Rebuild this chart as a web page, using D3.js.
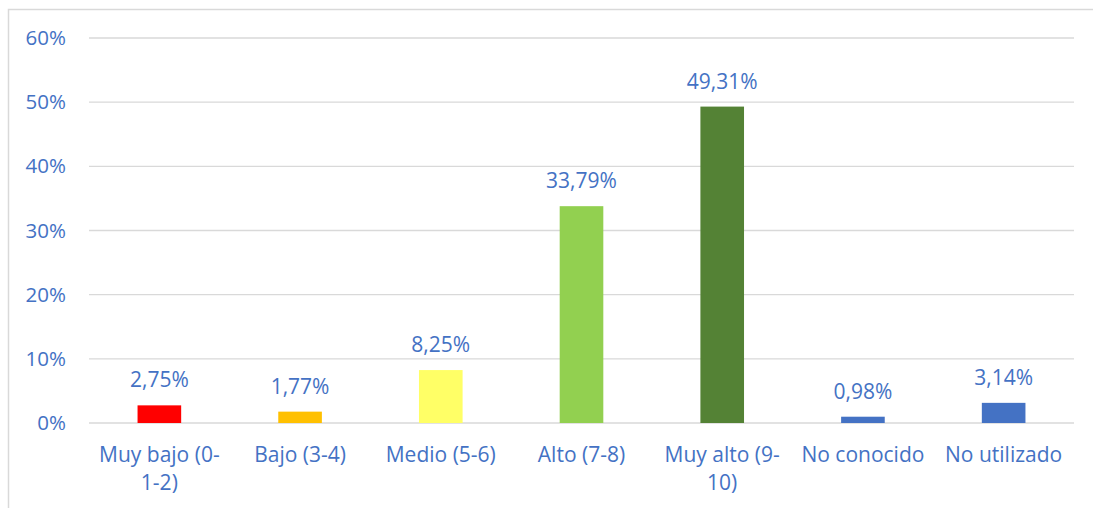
<!DOCTYPE html>
<html>
<head>
<meta charset="utf-8">
<script src="https://cdn.jsdelivr.net/npm/d3@7"></script>
<style>
  body { margin: 0; background: #fff; }
  text { font-family: "Open Sans", "Liberation Sans", sans-serif; fill: #4472C4; }
</style>
</head>
<body>
<div id="vis"></div>
<script>
const categories = [
  ['Muy bajo (0-', '1-2)'],
  ['Bajo (3-4)'],
  ['Medio (5-6)'],
  ['Alto (7-8)'],
  ['Muy alto (9-', '10)'],
  ['No conocido'],
  ['No utilizado']
];
const values = [2.75, 1.77, 8.25, 33.79, 49.31, 0.98, 3.14];
const barColors = ['#FF0000', '#FFC000', '#FFFF66', '#92D050', '#548235', '#4472C4', '#4472C4'];
const yTicks = [0, 10, 20, 30, 40, 50, 60];

const width = 1093, height = 508;
const svg = d3.select('#vis')
  .append('svg')
  .attr('width', width)
  .attr('height', height);

// chart frame
svg.append('rect')
  .attr('x', 8.5).attr('y', 9.5)
  .attr('width', 1100).attr('height', 520)
  .attr('fill', 'none')
  .attr('stroke', '#d9d9d9')
  .attr('stroke-width', 1.5);

const plotLeft = 89, plotRight = 1074, plotTop = 38, plotBottom = 423;

const x = d3.scaleBand()
  .domain(d3.range(categories.length))
  .range([plotLeft, plotRight])
  .paddingInner(0.69)
  .paddingOuter(0.345);

const y = d3.scaleLinear()
  .domain([0, 60])
  .range([plotBottom, plotTop]);

// gridlines
svg.selectAll('.grid')
  .data(yTicks)
  .enter()
  .append('line')
  .attr('class', 'grid')
  .attr('x1', plotLeft).attr('x2', plotRight)
  .attr('y1', d => y(d)).attr('y2', d => y(d))
  .attr('stroke', '#d9d9d9')
  .attr('stroke-width', 1.3);

// y labels
svg.selectAll('.ylab')
  .data(yTicks)
  .enter()
  .append('text')
  .attr('class', 'ylab')
  .attr('x', 66)
  .attr('y', d => y(d) + 7)
  .attr('text-anchor', 'end')
  .style('font-size', '20.5px')
  .text(d => d + '%');

// bars
svg.selectAll('.bar')
  .data(values)
  .enter()
  .append('rect')
  .attr('class', 'bar')
  .attr('x', (d, i) => x(i))
  .attr('width', x.bandwidth())
  .attr('y', d => y(d))
  .attr('height', d => y(0) - y(d))
  .attr('fill', (d, i) => barColors[i]);

// value labels
svg.selectAll('.vlab')
  .data(values)
  .enter()
  .append('text')
  .attr('class', 'vlab')
  .attr('x', (d, i) => x(i) + x.bandwidth() / 2)
  .attr('y', d => y(d) - 18)
  .attr('text-anchor', 'middle')
  .style('font-size', '21px')
  .text(d => d3.format('.2f')(d).replace('.', ',') + '%');

// category labels
const catLab = svg.selectAll('.clab')
  .data(categories)
  .enter()
  .append('text')
  .attr('class', 'clab')
  .attr('text-anchor', 'middle')
  .style('font-size', '21px');

catLab.selectAll('tspan')
  .data((d, i) => d.map(line => ({ line, i })))
  .enter()
  .append('tspan')
  .attr('x', d => x(d.i) + x.bandwidth() / 2)
  .attr('y', (d, j) => 462 + j * 28)
  .text(d => d.line);
</script>
</body>
</html>
